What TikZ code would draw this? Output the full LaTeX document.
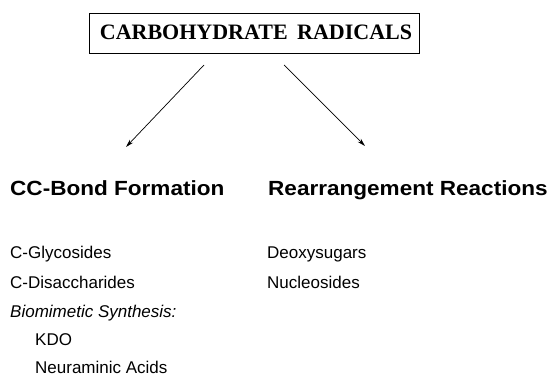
\documentclass[tikz,border=0pt]{standalone}
\usepackage{fontspec}
\usetikzlibrary{arrows.meta}
\setmainfont{Liberation Sans}
\newfontfamily\titlefont{Liberation Serif}
\newfontfamily\headfont[FakeStretch=1.1]{Liberation Sans}
\begin{document}
\begin{tikzpicture}[x=1pt,y=-1pt,
  head/.style={anchor=base west,inner sep=0pt,font=\headfont\fontsize{20.5}{24}\selectfont\bfseries},
  item/.style={anchor=base west,inner sep=0pt,font=\fontsize{17}{20}\selectfont},
  arr/.style={-{Stealth[length=8pt,width=4.5pt]},line width=0.7pt}]
\useasboundingbox (0,0) rectangle (554,379);
\draw[line width=0.9pt] (89,13) rectangle (419,53);
\node[anchor=base,inner sep=0pt,
  font=\titlefont\fontsize{22}{26}\selectfont\bfseries] (title) at (256,40) {CARBOHYDRATE\hspace{4pt} RADICALS};
\coordinate (s1) at (204,65);
\coordinate (e1) at (126,147);
\coordinate (s2) at (284,65);
\coordinate (e2) at (365,146);
\draw[arr] (s1) -- (e1);
\draw[arr] (s2) -- (e2);
\node[head] (h1) at (10,196) {CC-Bond Formation};
\node[head] (h2) at (268,196) {Rearrangement Reactions};
\node[item] (a1) at (10,259) {C-Glycosides};
\node[item] (a2) at (10,288) {C-Disaccharides};
\node[item] (a3) at (10,317) {\itshape Biomimetic Synthesis:};
\node[item] (a4) at (35,345) {KDO};
\node[item] (a5) at (35,373) {Neuraminic Acids};
\node[item] (b1) at (267,259) {Deoxysugars};
\node[item] (b2) at (267,288) {Nucleosides};
\end{tikzpicture}
\end{document}
